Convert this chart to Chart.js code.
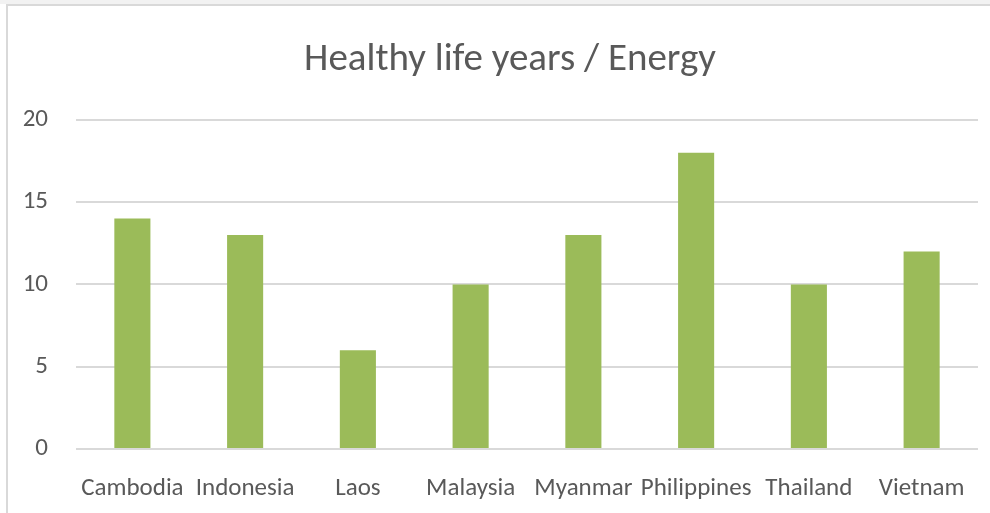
<!DOCTYPE html>
<html>
<head>
<meta charset="utf-8">
<script src="https://cdn.jsdelivr.net/npm/chart.js@4"></script>
<style>
    html, body { margin: 0; padding: 0; background: #ffffff; }
    body { width: 990px; height: 513px; overflow: hidden; position: relative; }
    .marco {
        position: absolute; left: 6px; top: 4px; width: 990px; height: 520px;
        border-left: 2px solid #d9d9d9; border-top: 2px solid #d9d9d9;
    }
    .franja { position: absolute; left: 0; top: 0; width: 990px; height: 4px; background: #f2f2f2; }
    #grafico { position: absolute; left: 0; top: 0; }
</style>
</head>
<body>
<div class="franja"></div>
<div class="marco"></div>
<canvas id="grafico" width="990" height="513"></canvas>
<script>
// Datos del gráfico
const paises = ['Cambodia', 'Indonesia', 'Laos', 'Malaysia', 'Myanmar', 'Philippines', 'Thailand', 'Vietnam'];
const valores = [14, 13, 6, 10, 13, 18, 10, 12];
const ejeY = [0, 5, 10, 15, 20];

const fuente = "Carlito, Calibri, 'Open Sans', sans-serif";
const gris = '#595959';

// Mueve el titulo para centrarlo como en el original
const centrarTitulo = {
    id: 'centrarTitulo',
    afterLayout(chart) {
        const t = chart.titleBlock;
        if (t) {
            t.left = 42;
            t.width = t.right - t.left;
        }
    }
};

const ctx = document.getElementById('grafico').getContext('2d');
new Chart(ctx, {
    type: 'bar',
    data: {
        labels: paises,
        datasets: [{
            label: 'Healthy life years / Energy',
            data: valores,
            backgroundColor: '#9bbb59',
            borderWidth: 0,
            categoryPercentage: 1,
            barPercentage: 0.32
        }]
    },
    options: {
        responsive: false,
        animation: false,
        layout: { padding: { left: 0, right: 12, top: 0, bottom: 0 } },
        plugins: {
            legend: { display: false },
            tooltip: { enabled: false },
            title: {
                display: true,
                text: 'Healthy life years / Energy',
                color: gris,
                font: { family: fuente, size: 39, weight: 'normal' },
                padding: { top: 37, bottom: 36 }
            }
        },
        scales: {
            x: {
                afterFit: function(escala) { escala.height = 513 - 449; },
                grid: { display: false },
                border: { display: false },
                ticks: {
                    color: gris,
                    font: { family: fuente, size: 25 },
                    padding: 17,
                    maxRotation: 0,
                    autoSkip: false
                }
            },
            y: {
                min: ejeY[0],
                max: ejeY[ejeY.length - 1],
                afterFit: function(escala) { escala.width = 76; },
                afterBuildTicks: function(escala) {
                    escala.ticks = ejeY.map(v => ({ value: v }));
                },
                grid: { color: '#d9d9d9', lineWidth: 2, drawTicks: false },
                border: { display: false },
                ticks: {
                    color: gris,
                    font: { family: fuente, size: 25 },
                    padding: 28
                }
            }
        }
    },
    plugins: [centrarTitulo]
});
</script>
</body>
</html>
